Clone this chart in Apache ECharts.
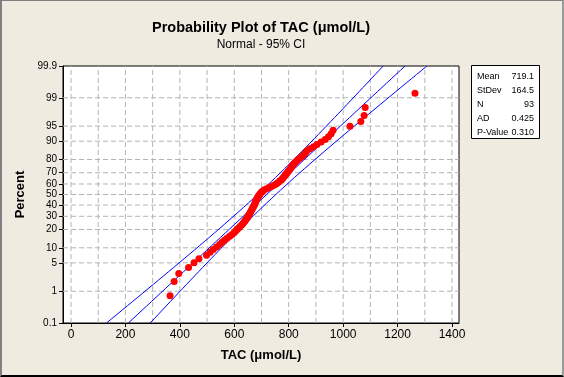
<!DOCTYPE html>
<html>
<head>
<meta charset="utf-8">
<script src="https://cdn.jsdelivr.net/npm/echarts@6/dist/echarts.min.js"></script>
<style>
html, body { margin: 0; padding: 0; background: #efebe1; }
#frame {
  width: 564px; height: 377px; box-sizing: border-box; background: #efebe1;
  border-top: 1px solid #7f7f7f; border-left: 2px solid #808080;
  border-right: 2px solid #9a9a9a; border-bottom: 2px solid #000;
}
#chart { width: 560px; height: 374px; }
</style>
</head>
<body>
<div id="frame"><div id="chart"></div></div>
<script>
// sorted TAC values (n = 93)
const tacValues = [
  364, 379, 396, 432, 452, 470, 498, 511, 523, 535,
  546, 555, 564, 573, 583, 592, 599, 605, 610, 616,
  621, 627, 632, 636, 640, 643, 647, 650, 652, 655,
  658, 660, 663, 665, 667, 670, 672, 674, 676, 677,
  679, 681, 683, 685, 687, 690, 693, 696, 699, 704,
  709, 717, 726, 735, 744, 752, 757, 763, 768, 774,
  777, 781, 785, 788, 792, 796, 799, 803, 807, 810,
  814, 818, 823, 829, 834, 842, 849, 856, 862, 867,
  878, 891, 904, 919, 934, 946, 956, 963, 1025, 1065,
  1077, 1081, 1264
]
const statLabels = [ 'Mean', 'StDev', 'N', 'AD', 'P-Value' ]
const statValues = [ '719.1', '164.5', '93', '0.425', '0.310' ]
const percentTicks = [ 0.1, 1, 5, 10, 20, 30, 40, 50, 60, 70, 80, 90, 95, 99, 99.9 ]
const percentGrid = [ 1, 5, 10, 20, 30, 40, 50, 60, 70, 80, 90, 95, 99 ]
const xTicks = [ 0, 200, 400, 600, 800, 1000, 1200, 1400 ]
const xGrid = [ 0, 100, 200, 300, 400, 500, 600, 700, 800, 900, 1000, 1100, 1200, 1300, 1400 ]

// inverse normal cdf (Acklam) - used for the probability axis
function qnorm(p) {
	const a = [ -3.969683028665376e+01, 2.209460984245205e+02, -2.759285104469687e+02, 1.383577518672690e+02, -3.066479806614716e+01, 2.506628277459239e+00 ]
	const b = [ -5.447609879822406e+01, 1.615858368580409e+02, -1.556989798598866e+02, 6.680131188771972e+01, -1.328068155288572e+01 ]
	const c = [ -7.784894002430293e-03, -3.223964580411365e-01, -2.400758277161838e+00, -2.549732539343734e+00, 4.374664141464968e+00, 2.938163982698783e+00 ]
	const d = [ 7.784695709041462e-03, 3.224671290700398e-01, 2.445134137142996e+00, 3.754408661907416e+00 ]
	const pl = 0.02425
	let q, r
	if (p < pl) {
		q = Math.sqrt(-2 * Math.log(p))
		return (((((c[0] * q + c[1]) * q + c[2]) * q + c[3]) * q + c[4]) * q + c[5]) / ((((d[0] * q + d[1]) * q + d[2]) * q + d[3]) * q + 1)
	}
	if (p > 1 - pl) {
		q = Math.sqrt(-2 * Math.log(1 - p))
		return -(((((c[0] * q + c[1]) * q + c[2]) * q + c[3]) * q + c[4]) * q + c[5]) / ((((d[0] * q + d[1]) * q + d[2]) * q + d[3]) * q + 1)
	}
	q = p - 0.5
	r = q * q
	return (((((a[0] * r + a[1]) * r + a[2]) * r + a[3]) * r + a[4]) * r + a[5]) * q / (((((b[0] * r + b[1]) * r + b[2]) * r + b[3]) * r + b[4]) * r + 1)
}

const mean = parseFloat(statValues[0])
const sd = parseFloat(statValues[1])
const n = tacValues.length
const xMin = -29.4
const xMax = 1425.7
const zTicks = percentTicks.map(p => qnorm(p / 100))
const zMin = zTicks[0]
const zMax = zTicks[zTicks.length - 1]

// median-rank plotting positions
const points = tacValues.map((v, i) => [ v, qnorm((i + 1 - 0.3) / (n + 0.4)) ])

// fitted line and 95% CI for the percentiles
const fitLine = [], ciLow = [], ciHigh = []
for (let k = 0; k <= 60; k++) {
	const z = zMin + (zMax - zMin) * k / 60
	const xp = mean + z * sd
	const half = 1.96 * sd * Math.sqrt((1 + z * z / 2) / n)
	fitLine.push([ xp, z ])
	ciLow.push([ xp - half, z ])
	ciHigh.push([ xp + half, z ])
}

const FONT = '"Liberation Sans", Arial, sans-serif'
const blue = { color: '#0000ff', width: 1 }
const dash = { type: [ 5, 3 ], color: '#b4b4b4', width: 1 }

// dashed reference grid
const gridSeries = []
xGrid.forEach(x => {
	gridSeries.push({ type: 'line', data: [ [ x, zMin ], [ x, zMax ] ], symbol: 'none', lineStyle: dash, z: 1, silent: true })
})
percentGrid.forEach(p => {
	const z = qnorm(p / 100)
	gridSeries.push({ type: 'line', data: [ [ xMin, z ], [ xMax, z ] ], symbol: 'none', lineStyle: dash, z: 1, silent: true })
})

const statGraphics = [ {
	type: 'rect',
	shape: { x: 469.5, y: 64.5, width: 68, height: 73 },
	style: { fill: '#fff', stroke: '#000', lineWidth: 1 }
} ]
statLabels.forEach((label, i) => {
	statGraphics.push({
		type: 'text', x: 475, y: 76 + i * 14,
		style: { text: label, font: '9px ' + FONT, fill: '#000', textAlign: 'left', textVerticalAlign: 'middle' }
	})
	statGraphics.push({
		type: 'text', x: 532, y: 76 + i * 14,
		style: { text: statValues[i], font: '9px ' + FONT, fill: '#000', textAlign: 'right', textVerticalAlign: 'middle' }
	})
})

const chart = echarts.init(document.getElementById('chart'))
chart.setOption({
	animation: false,
	backgroundColor: '#efebe1',
	textStyle: { fontFamily: FONT },
	grid: {
		left: 61, top: 65, width: 396, height: 257,
		show: true, backgroundColor: '#fff', borderColor: '#000', borderWidth: 1
	},
	xAxis: {
		type: 'value',
		min: xMin,
		max: xMax,
		name: 'TAC (μmol/L)',
		nameLocation: 'middle',
		nameGap: 26,
		nameTextStyle: { fontSize: 13, fontWeight: 'bold', color: '#000' },
		axisLine: { show: true, onZero: false, lineStyle: { color: '#000' } },
		axisTick: { show: true, length: 4, customValues: xTicks, lineStyle: { color: '#000' } },
		axisLabel: { customValues: xTicks, fontSize: 12, color: '#000', margin: 6, formatter: v => String(Math.round(v)) },
		splitLine: { show: false }
	},
	yAxis: {
		type: 'value',
		min: zMin,
		max: zMax,
		name: 'Percent',
		nameLocation: 'middle',
		nameGap: 32,
		nameRotate: 90,
		nameTextStyle: { fontSize: 13, fontWeight: 'bold', color: '#000' },
		axisLine: { show: true, onZero: false, lineStyle: { color: '#000' } },
		axisTick: { show: true, length: 4, customValues: zTicks, lineStyle: { color: '#000' } },
		axisLabel: {
			customValues: zTicks,
			fontSize: 10,
			color: '#000',
			margin: 6,
			formatter: function (v) {
				let best = 0
				zTicks.forEach((z, i) => { if (Math.abs(z - v) < Math.abs(zTicks[best] - v)) best = i })
				return String(percentTicks[best])
			}
		},
		splitLine: { show: false }
	},
	graphic: [
		{
			type: 'text', x: 259, y: 27,
			style: { text: 'Probability Plot of TAC (μmol/L)', font: 'bold 14.5px ' + FONT, fill: '#000', textAlign: 'center', textVerticalAlign: 'middle' }
		},
		{
			type: 'text', x: 259, y: 44,
			style: { text: 'Normal - 95% CI', font: '12px ' + FONT, fill: '#000', textAlign: 'center', textVerticalAlign: 'middle' }
		}
	].concat(statGraphics),
	series: gridSeries.concat([
		{ type: 'line', data: ciLow, symbol: 'none', lineStyle: blue, z: 3, silent: true },
		{ type: 'line', data: fitLine, symbol: 'none', lineStyle: blue, z: 3, silent: true },
		{ type: 'line', data: ciHigh, symbol: 'none', lineStyle: blue, z: 3, silent: true },
		{
			type: 'scatter',
			data: points,
			symbolSize: 7,
			itemStyle: { color: '#ff0000', opacity: 1 },
			z: 4
		}
	])
})
</script>
</body>
</html>
